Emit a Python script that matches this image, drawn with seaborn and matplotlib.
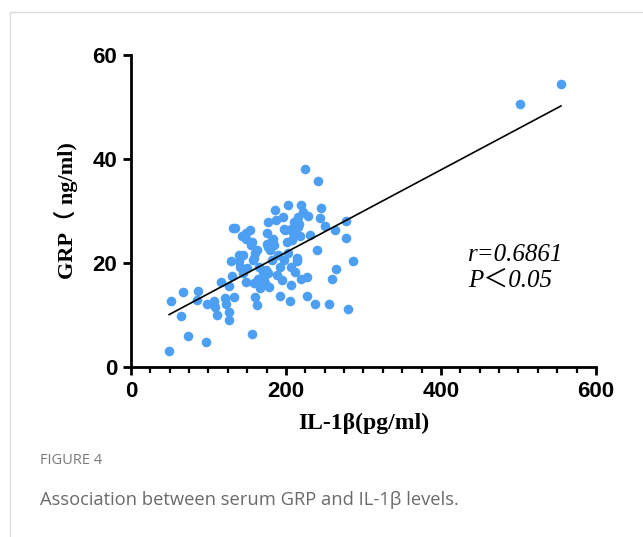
import numpy as np
import pandas as pd
import matplotlib
matplotlib.use("Agg")
import matplotlib.pyplot as plt
import seaborn as sns
from matplotlib.ticker import MultipleLocator

# =====================================================
# Data: IL-1beta (pg/ml) vs GRP (ng/ml)
# =====================================================
il1b = [49, 51, 64.5, 67.5, 73, 85, 87, 97, 97.6, 107.5, 110.5, 108, 116, 121,
        122.6, 127, 127, 127, 133, 130, 129, 132, 134.6, 140, 140.6, 143, 145,
        149, 149, 154, 156, 155.7, 158, 159, 160, 162, 162, 164, 166.5, 170,
        171, 173, 175, 177, 178.5, 179, 181.5, 183, 186, 187, 190, 192, 192,
        194.4, 196.6, 198, 201, 202, 203, 205, 207, 209.5, 211.6, 214, 216,
        218, 219, 220, 222, 224.5, 226.7, 227.5, 229, 231, 238, 239.6, 241.7,
        244, 244.7, 250, 255.5, 259, 263, 265, 278, 278, 280, 287,
        502, 555,
        175, 177, 182, 199, 206, 208, 210, 215, 217, 148, 155, 159, 139, 150,
        145, 165, 171, 177, 174, 160, 184, 198, 214, 206, 188]
grp = [3.1, 12.6, 9.8, 14.5, 6.0, 12.8, 14.7, 4.8, 12.2, 12.6, 10.0, 11.6, 16.4,
       13.2, 12.2, 10.6, 9.0, 15.6, 13.4, 17.5, 20.3, 26.7, 26.8, 21.5, 19.3,
       25.1, 18.0, 16.4, 25.8, 26.3, 24.1, 6.3, 20.6, 16.1, 13.5, 11.9, 22.5,
       17.0, 15.1, 18.3, 16.4, 16.1, 25.7, 27.9, 15.4, 22.5, 20.6, 24.7, 30.1,
       28.3, 21.5, 19.3, 13.7, 16.7, 28.8, 26.5, 24.1, 31.2, 21.9, 12.6, 15.8,
       25.7, 18.3, 20.9, 28.9, 25.1, 31.2, 16.9, 29.9, 38.0, 13.7, 17.4, 29.0,
       25.4, 12.2, 22.5, 35.8, 28.6, 30.6, 27.1, 12.1, 16.9, 26.3, 18.8, 28.1,
       24.9, 11.2, 20.3,
       50.6, 54.4,
       23.7, 23.1, 24.4, 26.3, 26.6, 24.4, 27.8, 26.9, 27.5, 24.7, 23.5, 20.9,
       20.3, 19.0, 21.5, 19.3, 17.4, 18.0, 18.6, 21.9, 23.5, 20.6, 20.3, 19.3,
       17.7]

df = pd.DataFrame({"IL1b": il1b, "GRP": grp})

# =====================================================
# Figure
# =====================================================
sns.set_style("ticks")
fig = plt.figure(figsize=(6.43, 5.37), dpi=100)
ax = fig.add_axes([0.2037, 0.3166, 0.7232, 0.581])

sns.regplot(data=df, x="IL1b", y="GRP", ax=ax, ci=None, truncate=True,
            scatter_kws=dict(s=48, color="#4c9ff2", alpha=1, linewidths=0),
            line_kws=dict(color="black", lw=1.2))

ax.set_xlim(0, 600)
ax.set_ylim(0, 60)
ax.set_xticks([0, 200, 400, 600])
ax.set_yticks([0, 20, 40, 60])
ax.xaxis.set_minor_locator(MultipleLocator(25))
sns.despine(ax=ax)
for s in ["left", "bottom"]:
    ax.spines[s].set_linewidth(2)
    ax.spines[s].set_color("black")
ax.tick_params(axis="both", which="major", width=2, length=6, color="black",
               labelcolor="black", pad=4)
ax.tick_params(axis="x", which="minor", width=1.6, length=4, color="black")

tick_font = ["Liberation Sans", "DejaVu Sans"]
for lab in ax.get_xticklabels() + ax.get_yticklabels():
    lab.set_family(tick_font)
    lab.set_fontweight("bold")
    lab.set_fontsize(16)

ax.set_xlabel("IL-1β(pg/ml)", family=["Liberation Serif"], fontweight="bold",
              fontsize=17, labelpad=8, color="black")
ax.set_ylabel("GRP（ ng/ml)", family=["Liberation Serif", "Noto Sans CJK SC"],
              fontweight="bold", fontsize=16, labelpad=10, color="black")

ax.text(435, 21.5, "r=0.6861", family=["Liberation Serif"], style="italic",
        fontsize=18, va="center", ha="left", color="black")
ax.text(435, 16.5, "P＜0.05", family=["Liberation Serif", "Noto Sans CJK SC"],
        style="italic", fontsize=18, va="center", ha="left", color="black")

# card border and caption
fig.add_artist(plt.Line2D([10 / 643, 1], [1 - 12 / 537] * 2, color="#dddddd",
                          lw=1, transform=fig.transFigure))
fig.add_artist(plt.Line2D([10 / 643] * 2, [0, 1 - 12 / 537], color="#dddddd",
                          lw=1, transform=fig.transFigure))
fig.text(40 / 643, 1 - 461 / 537, "FIGURE 4", family=["Open Sans"],
         fontsize=10.5, color="#7a7a7a", va="center")
fig.text(40 / 643, 1 - 500 / 537, "Association between serum GRP and IL-1β levels.",
         family=["Open Sans"], fontsize=13.2, color="#6a6a6a", va="center")

fig.savefig("out.png", dpi=100)
